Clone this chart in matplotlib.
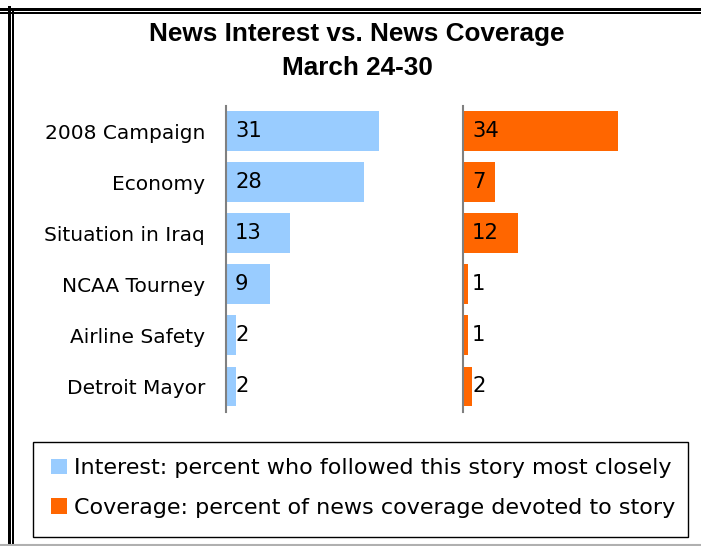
import matplotlib
matplotlib.use("Agg")
import matplotlib.pyplot as plt
from matplotlib.patches import Patch, Rectangle
from matplotlib.lines import Line2D

W, H = 701, 546

stories = ["2008 Campaign", "Economy", "Situation in Iraq", "NCAA Tourney",
           "Airline Safety", "Detroit Mayor"]
interest = [31, 28, 13, 9, 2, 2]
coverage = [34, 7, 12, 1, 1, 2]

blue = "#99CCFF"
orange = "#FF6600"
body_font = "DejaVu Sans"


def px_axes(fig, x0, y0, x1, y1):
    # pixel box (from top-left) -> figure fraction
    return fig.add_axes([x0 / W, 1 - y1 / H, (x1 - x0) / W, (y1 - y0) / H])


fig = plt.figure(figsize=(W / 100, H / 100), dpi=100)

# outer double frame (top and left, plus faint bottom line)
for y, lw in [(8.5, 3.0), (13.2, 2.0)]:
    fig.add_artist(Line2D([0, 1], [1 - y / H, 1 - y / H], color="black", lw=lw * 0.72))
for x, lw, y0 in [(8.5, 3.0, 7), (13.2, 2.0, 12)]:
    fig.add_artist(Line2D([x / W, x / W], [1 - y0 / H, 0], color="black", lw=lw * 0.72))
fig.add_artist(Line2D([0, 1], [1 - 544.5 / H, 1 - 544.5 / H], color="#b0b0b0", lw=1.5))

fig.text(357 / W, 1 - 34 / H, "News Interest vs. News Coverage", ha="center", va="center",
         fontsize=18.8, fontweight="bold", family="Liberation Sans")
fig.text(357 / W, 1 - 68 / H, "March 24-30", ha="center", va="center",
         fontsize=18.8, fontweight="bold", family="Liberation Sans")

pos = list(range(len(stories)))

panels = [
    (interest, blue, 226, 426, 40.5, True),
    (coverage, orange, 463, 683, 48.4, False),
]
for vals, col, x0, x1, xmax, show_cats in panels:
    ax = px_axes(fig, x0, 105.5, x1, 412)
    ax.barh(pos, vals, height=0.78, color=col)
    ax.set_xlim(0, xmax)
    ax.set_ylim(len(stories) - 0.5, -0.5)
    for s in ["top", "right", "bottom"]:
        ax.spines[s].set_visible(False)
    ax.spines["left"].set_color("#808080")
    ax.spines["left"].set_linewidth(1.5)
    ax.set_xticks([])
    ax.set_yticks(pos)
    if show_cats:
        ax.set_yticklabels(stories, fontsize=14.5, family=body_font)
    else:
        ax.set_yticklabels([])
    ax.tick_params(axis="y", length=0, pad=15)
    for p, v in zip(pos, vals):
        ax.annotate(str(v), (0, p), xytext=(6.5, 0), textcoords="offset points",
                    ha="left", va="center", fontsize=15.2, family=body_font)

# legend box drawn by hand so it sits exactly where the original one is
fig.add_artist(Rectangle((33 / W, 1 - 537 / H), 655 / W, 95 / H, transform=fig.transFigure,
                         facecolor="none", edgecolor="black", lw=1.0))
handles = [Patch(facecolor=blue, edgecolor="none"),
           Patch(facecolor=orange, edgecolor="none")]
labels = ["Interest: percent who followed this story most closely",
          "Coverage: percent of news coverage devoted to story"]
fig.legend(handles, labels, loc="center left",
           bbox_to_anchor=(51 / W, 1 - 488 / H),
           prop={"family": body_font, "size": 16.0},
           frameon=False, handlelength=0.72, handleheight=0.72, handletextpad=0.3,
           labelspacing=0.88, borderpad=0, borderaxespad=0)

fig.savefig("out.png", dpi=100)
